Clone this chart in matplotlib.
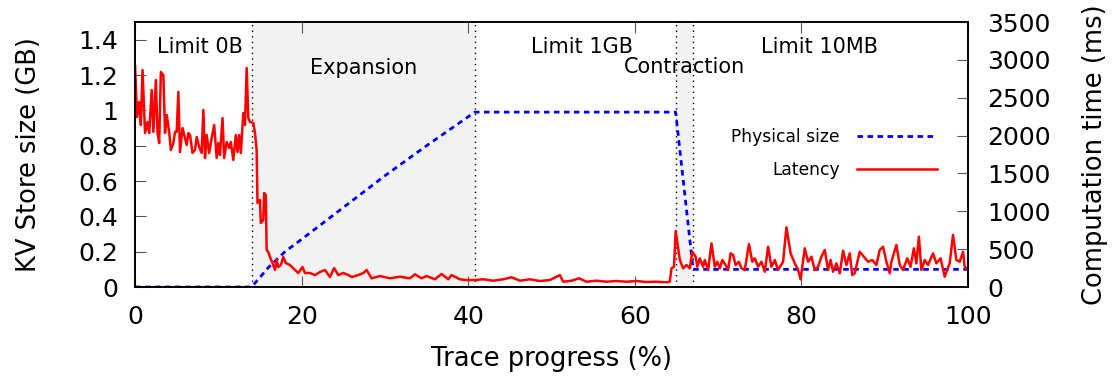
import matplotlib
matplotlib.use('Agg')
import matplotlib.pyplot as plt
import numpy as np

plt.rcParams['font.family'] = 'DejaVu Sans'

# physical size of the store (GB) along the trace (%)
size_x = [0, 14.0, 16.0, 18.0, 20.0, 25.0, 30.0, 35.0, 40.8, 64.9, 67.0, 100]
size_gb = [0, 0, 0.11, 0.2, 0.27, 0.45, 0.63, 0.8, 0.99, 0.99, 0.1, 0.1]

# latency samples (ms) along the trace (%)
lat_x = [0, 0.25, 0.5, 0.7, 0.9, 1.2, 1.5, 1.7, 2.0, 2.2, 2.5, 2.7, 2.9, 3.1, 3.4, 3.6, 3.8,
         4.1, 4.3, 4.6, 4.8, 5.0, 5.2, 5.4, 5.7, 5.9, 6.2, 6.4, 6.6, 6.9, 7.2, 7.4, 7.7, 8.0,
         8.2, 8.4, 8.6, 8.9, 9.2, 9.5, 9.8, 10.0, 10.2, 10.5, 10.7, 11.0, 11.3, 11.5, 11.8,
         12.1, 12.3, 12.5, 12.7, 13.0, 13.2, 13.4, 13.6, 13.8, 14.2, 14.4, 14.6, 14.7, 15.0,
         15.1, 15.4, 15.5, 15.7, 15.8, 16.0, 16.2, 16.5, 16.8, 17.0, 17.2, 17.5, 17.8, 18.1,
         18.6, 19.2, 19.6, 20.1, 20.4, 21.0, 21.6, 22.2, 22.8, 23.4, 23.9, 24.4, 25.0, 25.6,
         26.0, 26.8, 27.4, 27.8, 28.4, 29.4, 30.6, 31.8, 33.0, 33.6, 34.4, 35.0, 36.0, 36.8,
         37.6, 38.0, 39.0, 39.8, 40.8, 41.8, 43.0, 44.2, 45.2, 46.2, 47.4, 48.6, 49.8, 51.0,
         51.4, 52.4, 53.3, 54.2, 55.4, 56.6, 57.8, 59.0, 60.2, 61.4, 62.6, 63.8, 64.2, 64.4,
         64.7, 64.9, 65.4, 65.8, 66.2, 66.6, 66.9, 67.3, 67.5, 67.8, 68.2, 68.4, 68.8, 69.2,
         69.6, 69.9, 70.2, 70.5, 70.9, 71.2, 71.5, 71.8, 72.1, 72.5, 72.8, 73.2, 73.7, 74.1,
         74.4, 74.8, 75.2, 75.6, 76.0, 76.4, 76.8, 77.2, 77.8, 78.2, 78.7, 79.2, 79.6, 79.9,
         80.4, 80.8, 81.2, 81.6, 82.0, 82.4, 82.8, 83.2, 83.5, 83.8, 84.2, 84.6, 85.0, 85.4,
         85.8, 86.1, 86.4, 87.0, 87.5, 88.0, 88.5, 89.0, 89.4, 89.8, 90.2, 90.6, 90.8, 91.4,
         91.8, 92.2, 92.7, 93.1, 93.5, 93.8, 94.1, 94.4, 94.8, 95.2, 95.8, 96.2, 96.7, 97.2,
         97.8, 98.2, 98.6, 99.0, 99.4, 99.6, 100]
lat_ms = [2930, 2245, 2444, 2140, 2867, 2034, 2180, 2034, 2602, 2048, 2735, 2034, 1902, 2840,
          2800, 2034, 2272, 2048, 1810, 1902, 2048, 2048, 2576, 1783, 2100, 2008, 1876, 2034,
          2008, 1770, 1810, 1982, 1850, 1770, 2338, 1704, 2008, 1770, 1968, 2140, 1704, 1902,
          1744, 2232, 1704, 1915, 1836, 1915, 1678, 2008, 1783, 2008, 1770, 2298, 2140, 2893,
          2232, 2180, 2166, 2034, 1810, 1110, 1150, 845, 885, 1242, 1215, 489, 462, 396, 317,
          225, 357, 264, 290, 396, 317, 290, 225, 185, 264, 185, 185, 158, 198, 225, 132, 250,
          158, 185, 158, 132, 158, 185, 225, 115, 145, 115, 136, 115, 168, 115, 145, 102, 172,
          102, 158, 102, 92, 92, 102, 83, 102, 128, 83, 102, 79, 92, 158, 70, 83, 115, 70, 83,
          70, 79, 70, 79, 66, 70, 62, 70, 247, 268, 740, 357, 247, 290, 247, 466, 400, 268, 379,
          268, 357, 225, 577, 268, 334, 247, 357, 290, 225, 445, 423, 290, 334, 247, 225, 568,
          334, 379, 268, 334, 202, 532, 268, 357, 225, 334, 789, 445, 313, 225, 102, 511, 334,
          400, 225, 268, 400, 489, 225, 357, 202, 313, 181, 480, 290, 445, 158, 181, 466, 400,
          334, 357, 290, 489, 532, 334, 181, 334, 555, 290, 225, 379, 268, 511, 313, 665, 225,
          357, 290, 445, 313, 379, 136, 313, 687, 357, 334, 466, 268, 225]

# phase boundaries (%) and labels
phase_edges = [14.0, 40.8, 64.9, 67.0]
shaded = [(14.0, 40.8), (64.9, 67.0)]
phase_labels = ['Limit 0B', 'Expansion', 'Limit 1GB', 'Contraction', 'Limit 10MB']
label_x = [7.8, 27.4, 53.7, 66.0, 82.2]
label_y = [1.356, 1.237, 1.356, 1.243, 1.356]

fig = plt.figure(figsize=(11.16, 3.81), dpi=100)
ax = fig.add_axes([0.121, 0.2467, 0.7464, 0.6955])
ax2 = ax.twinx()

for a, b in shaded:
    ax.axvspan(a, b, color='#f2f2f2', lw=0, zorder=0)
for e in phase_edges:
    ax.axvline(e, color='black', ls=(0, (1, 3)), lw=1, zorder=1)
for t, x, y in zip(phase_labels, label_x, label_y):
    ax.text(x, y, t, ha='center', va='center', fontsize=15, zorder=3)

ax.plot(size_x, size_gb, color='#0000ff', lw=2, ls=(0, (2, 1.6)), zorder=2)
ax2.plot(lat_x, lat_ms, color='#ff0000', lw=1.8, zorder=2)

ax.set_xlim(0, 100)
ax.set_ylim(0, 1.5)
ax2.set_ylim(0, 3500)
ax.set_xticks(np.arange(0, 101, 20))
ax.set_yticks(np.arange(0, 1.41, 0.2))
ax.set_yticklabels(['0', '0.2', '0.4', '0.6', '0.8', '1', '1.2', '1.4'])
ax2.set_yticks(np.arange(0, 3501, 500))

ax.tick_params(axis='x', direction='in', top=True, length=8, labelsize=18, pad=13, color='#555555')
ax.tick_params(axis='y', direction='in', length=8, labelsize=18, pad=12, color='#555555')
ax2.tick_params(axis='y', direction='in', length=8, labelsize=18, pad=14, color='#555555')

ax.set_xlabel('Trace progress (%)', fontsize=18.5, labelpad=12)
ax.set_ylabel('KV Store size (GB)', fontsize=18.5, labelpad=26)
ax2.set_ylabel('Computation time (ms)', fontsize=18.5, labelpad=22)

for a in (ax, ax2):
    for s in a.spines.values():
        s.set_linewidth(1.2)

# key: one entry per legend so the texts line up on the right
phys_line, = ax2.plot([], [], color='#0000ff', lw=2, ls=(0, (2, 1.6)))
lat_line, = ax2.plot([], [], color='#ff0000', lw=1.8)
key_opts = dict(loc='center right', markerfirst=False, frameon=False, fontsize=12.3,
                handlelength=4.7, handletextpad=1.0, borderaxespad=0, borderpad=0)
lg = ax2.legend([phys_line], ['Physical size'], bbox_to_anchor=(0.963, 0.566), **key_opts)
ax2.add_artist(lg)
ax2.legend([lat_line], ['Latency'], bbox_to_anchor=(0.963, 0.4415), **key_opts)

fig.savefig('out.png', dpi=100)
